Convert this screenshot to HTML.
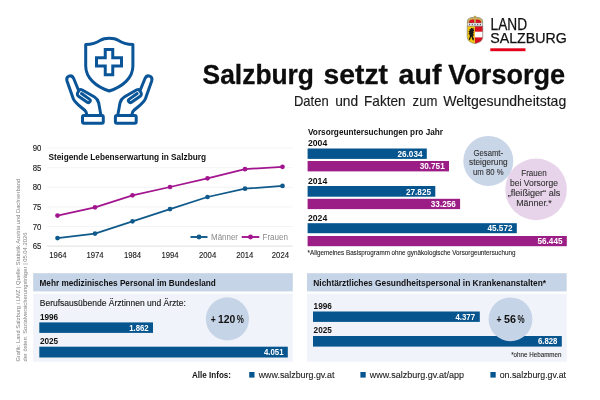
<!DOCTYPE html>
<html lang="de">
<head>
<meta charset="utf-8">
<title>Salzburg setzt auf Vorsorge</title>
<style>
html,body{margin:0;padding:0;background:#fff;}
body{width:600px;height:400px;overflow:hidden;position:relative;font-family:"Liberation Sans",sans-serif;}
svg{position:absolute;left:0;top:0;display:block;}
text{font-family:"Liberation Sans",sans-serif;}
.b{font-weight:bold;}
.ax{font-size:8.6px;fill:#1a1a1a;stroke:#1a1a1a;stroke-width:0.12px;}
.yr{font-size:8.4px;font-weight:bold;fill:#111;}
.val{font-size:8.7px;font-weight:bold;fill:#fff;}
.ct{font-size:9px;fill:#333;stroke:#333;stroke-width:0.12px;}
</style>
</head>
<body>
<svg width="600" height="400" viewBox="0 0 600 400">
<rect width="600" height="400" fill="#fff"/>

<!-- ICON -->
<g id="icon" fill="none" stroke="#0a5598" stroke-width="3" stroke-linejoin="round" stroke-linecap="round">
  <path d="M109.3 38.3 C105.5 38.3 103 38.6 100.5 40.2 C96.5 42.8 91 44.3 85.7 44.6 V66 C85.7 78 96 86.5 109.3 91 C122.6 86.5 132.9 78 132.9 66 V44.6 C127.6 44.3 122.1 42.8 118.1 40.2 C115.6 38.6 113.1 38.3 109.3 38.3 Z"/>
  <path d="M105.25 49.5 h7.5 v8.25 h8.75 v8.25 h-8.75 v8.75 h-7.5 v-8.75 h-8.75 v-8.25 h8.75 Z" stroke-linejoin="miter"/>
  <g id="lhand">
    <path d="M86.8 114.5 C86.6 112.5 86 111.3 84.5 110 C80.5 106.5 74.8 103 73.2 98.5 L67 81 C65.6 76 71.6 74 73.6 78.3 L78.6 90.5 C79.5 89.3 81 89.3 82.3 90 L94.5 97 C97 98.5 98 100.5 98.7 103 L100.8 114.5"/>
    <path d="M78.8 91 C77 93 76.8 95 78.5 96.2 L87.2 102.2 A1.9 1.9 0 0 0 89.4 99.1 L81.5 93.6"/>
    <rect x="82.5" y="115.5" width="20.8" height="7.7" rx="1.4"/>
  </g>
  <g transform="translate(218.7,0) scale(-1,1)">
    <path d="M86.8 114.5 C86.6 112.5 86 111.3 84.5 110 C80.5 106.5 74.8 103 73.2 98.5 L67 81 C65.6 76 71.6 74 73.6 78.3 L78.6 90.5 C79.5 89.3 81 89.3 82.3 90 L94.5 97 C97 98.5 98 100.5 98.7 103 L100.8 114.5"/>
    <path d="M78.8 91 C77 93 76.8 95 78.5 96.2 L87.2 102.2 A1.9 1.9 0 0 0 89.4 99.1 L81.5 93.6"/>
    <rect x="82.5" y="115.5" width="20.8" height="7.7" rx="1.4"/>
  </g>
</g>

<!-- TITLE -->
<text y="83.8" font-size="27.6" class="b" fill="#0d0d0d" stroke="#0d0d0d" stroke-width="0.3"><tspan x="202.6" textLength="111.4" lengthAdjust="spacingAndGlyphs">Salzburg</tspan> <tspan x="323.6" textLength="64.4" lengthAdjust="spacingAndGlyphs">setzt</tspan> <tspan x="398.6" textLength="42.8" lengthAdjust="spacingAndGlyphs">auf</tspan> <tspan x="448.3" textLength="116.8" lengthAdjust="spacingAndGlyphs">Vorsorge</tspan></text>
<text y="106.3" font-size="14.2" fill="#1a1a1a" stroke="#1a1a1a" stroke-width="0.15"><tspan x="294" textLength="34.6" lengthAdjust="spacingAndGlyphs">Daten</tspan> <tspan x="335.2" textLength="23" lengthAdjust="spacingAndGlyphs">und</tspan> <tspan x="364" textLength="41.6" lengthAdjust="spacingAndGlyphs">Fakten</tspan> <tspan x="412.6" textLength="24.8" lengthAdjust="spacingAndGlyphs">zum</tspan> <tspan x="443.2" textLength="123" lengthAdjust="spacingAndGlyphs">Weltgesundheitstag</tspan></text>
<!-- LOGO -->
<g id="logo">
  <g id="crest">
    <rect x="474.5" y="15.6" width="1" height="2.4" fill="#d9a520"/>
    <rect x="473.9" y="16.2" width="2.2" height="0.8" fill="#d9a520"/>
    <path d="M467.4 26 V21.2 C467.4 18.4 470.5 17.2 475 17.2 C479.5 17.2 482.6 18.4 482.6 21.2 V26 Z" fill="#c8b25a" stroke="#76766a" stroke-width="0.6"/>
    <path d="M469 23 V21.7 C469 20.1 471.4 19.5 474.2 19.5 V23 Z" fill="#d8101f"/>
    <path d="M481 23 V21.7 C481 20.1 478.6 19.5 475.8 19.5 V23 Z" fill="#d8101f"/>
    <rect x="467.4" y="23" width="15.2" height="3" fill="#f3f3f5" stroke="#80807a" stroke-width="0.4"/>
    <circle cx="469.6" cy="24.5" r="0.65" fill="#4a4f66"/><circle cx="472.3" cy="24.5" r="0.65" fill="#4a4f66"/><circle cx="475" cy="24.5" r="0.65" fill="#4a4f66"/><circle cx="477.7" cy="24.5" r="0.65" fill="#4a4f66"/><circle cx="480.4" cy="24.5" r="0.65" fill="#4a4f66"/>
    <path d="M467.2 26.2 H474.9 V43.6 C470 42.6 467.2 40.4 467.2 36.5 Z" fill="#f6c70a"/>
    <path d="M474.9 26.2 H482.8 V36.5 C482.8 40.4 480 42.6 474.9 43.6 Z" fill="#d8101f"/>
    <rect x="474.9" y="31.7" width="7.9" height="5.7" fill="#fff"/>
    <path d="M471.0 27.8 L472.6 28.4 L473.8 27.9 L473.6 29.6 L474.4 30.6 L473.2 31.2 L474.2 32.6 L473.0 33.0 L473.8 35.0 L472.8 36.4 L474.0 38.6 L473.4 40.8 L472.2 39.6 L472.0 37.6 L471.0 37.0 L470.4 39.0 L469.2 40.6 L468.8 39.0 L469.8 36.8 L469.6 34.6 L468.4 34.0 L469.4 32.6 L468.4 31.2 L469.8 30.6 L469.4 29.0 L470.6 29.2 Z" fill="#1a1a1a"/>
    <path d="M467.2 26.2 H482.8 V36.5 C482.8 40.4 480 42.6 475 43.6 C470 42.6 467.2 40.4 467.2 36.5 Z" fill="none" stroke="#77776c" stroke-width="0.6"/>
  </g>
  <text x="490.6" y="30" font-size="16" fill="#111" stroke="#111" stroke-width="0.25" textLength="36.5" lengthAdjust="spacingAndGlyphs">LAND</text>
  <text x="490.2" y="43.3" font-size="15.2" fill="#111" stroke="#111" stroke-width="0.25" textLength="76.6" lengthAdjust="spacingAndGlyphs">SALZBURG</text>
  <rect x="490.3" y="48.3" width="35.2" height="2.9" fill="#e2001a"/>
</g>
<!-- LINE CHART -->
<g id="linechart">
<line x1="47" y1="148.1" x2="292.8" y2="148.1" stroke="#f0f0f0" stroke-width="0.8"/>
<text x="32.7" y="151.15" class="ax" textLength="8.7" lengthAdjust="spacingAndGlyphs">90</text>
<line x1="47" y1="167.7" x2="292.8" y2="167.7" stroke="#f0f0f0" stroke-width="0.8"/>
<text x="32.7" y="170.75" class="ax" textLength="8.7" lengthAdjust="spacingAndGlyphs">85</text>
<line x1="47" y1="187.3" x2="292.8" y2="187.3" stroke="#f0f0f0" stroke-width="0.8"/>
<text x="32.7" y="190.35" class="ax" textLength="8.7" lengthAdjust="spacingAndGlyphs">80</text>
<line x1="47" y1="206.9" x2="292.8" y2="206.9" stroke="#f0f0f0" stroke-width="0.8"/>
<text x="32.7" y="209.95" class="ax" textLength="8.7" lengthAdjust="spacingAndGlyphs">75</text>
<line x1="47" y1="226.5" x2="292.8" y2="226.5" stroke="#f0f0f0" stroke-width="0.8"/>
<text x="32.7" y="229.55" class="ax" textLength="8.7" lengthAdjust="spacingAndGlyphs">70</text>
<line x1="47" y1="246.1" x2="292.8" y2="246.1" stroke="#dadada" stroke-width="0.8"/>
<text x="32.7" y="249.15" class="ax" textLength="8.7" lengthAdjust="spacingAndGlyphs">65</text>
<text x="49.3" y="257.6" class="ax" textLength="17.2" lengthAdjust="spacingAndGlyphs">1964</text>
<text x="86.4" y="257.6" class="ax" textLength="17.2" lengthAdjust="spacingAndGlyphs">1974</text>
<text x="123.9" y="257.6" class="ax" textLength="17.2" lengthAdjust="spacingAndGlyphs">1984</text>
<text x="161.4" y="257.6" class="ax" textLength="17.2" lengthAdjust="spacingAndGlyphs">1994</text>
<text x="199.0" y="257.6" class="ax" textLength="17.2" lengthAdjust="spacingAndGlyphs">2004</text>
<text x="236.2" y="257.6" class="ax" textLength="17.2" lengthAdjust="spacingAndGlyphs">2014</text>
<text x="271.8" y="257.6" class="ax" textLength="17.2" lengthAdjust="spacingAndGlyphs">2024</text>
<polyline points="57.5,238.1 95,233.6 132.5,221.3 170,209.1 207.5,197 245,188.7 282.5,185.9" fill="none" stroke="#0f5a8b" stroke-width="1.75" stroke-linejoin="round"/>
<circle cx="57.5" cy="238.1" r="2.35" fill="#0f5a8b"/>
<circle cx="95" cy="233.6" r="2.35" fill="#0f5a8b"/>
<circle cx="132.5" cy="221.3" r="2.35" fill="#0f5a8b"/>
<circle cx="170" cy="209.1" r="2.35" fill="#0f5a8b"/>
<circle cx="207.5" cy="197" r="2.35" fill="#0f5a8b"/>
<circle cx="245" cy="188.7" r="2.35" fill="#0f5a8b"/>
<circle cx="282.5" cy="185.9" r="2.35" fill="#0f5a8b"/>
<polyline points="57.5,215.6 95,207.3 132.5,195.3 170,187 207.5,178.3 245,169.2 282.5,166.8" fill="none" stroke="#a3158f" stroke-width="1.75" stroke-linejoin="round"/>
<circle cx="57.5" cy="215.6" r="2.35" fill="#a3158f"/>
<circle cx="95" cy="207.3" r="2.35" fill="#a3158f"/>
<circle cx="132.5" cy="195.3" r="2.35" fill="#a3158f"/>
<circle cx="170" cy="187" r="2.35" fill="#a3158f"/>
<circle cx="207.5" cy="178.3" r="2.35" fill="#a3158f"/>
<circle cx="245" cy="169.2" r="2.35" fill="#a3158f"/>
<circle cx="282.5" cy="166.8" r="2.35" fill="#a3158f"/>
<text x="48.5" y="160" class="b" font-size="8.8" fill="#111" textLength="157.5" lengthAdjust="spacingAndGlyphs">Steigende Lebenserwartung in Salzburg</text>
<line x1="190.5" y1="237" x2="207.5" y2="237" stroke="#0f5a8b" stroke-width="1.9"/><circle cx="199" cy="237" r="2.4" fill="#0f5a8b"/>
<text x="211" y="240" font-size="8.6" fill="#8a8a8a" textLength="27" lengthAdjust="spacingAndGlyphs">Männer</text>
<line x1="241.7" y1="237" x2="259.3" y2="237" stroke="#a3158f" stroke-width="1.9"/><circle cx="250.5" cy="237" r="2.4" fill="#a3158f"/>
<text x="262.5" y="240" font-size="8.6" fill="#8a8a8a" textLength="25.5" lengthAdjust="spacingAndGlyphs">Frauen</text>
</g>
<!-- BAR CHART RIGHT -->
<g id="bars">
<text x="308" y="134.8" class="b" font-size="8.7" fill="#111" textLength="135" lengthAdjust="spacingAndGlyphs">Vorsorgeuntersuchungen pro Jahr</text>
<text x="308" y="146.2" class="yr" textLength="19.2" lengthAdjust="spacingAndGlyphs">2004</text>
<rect x="307.6" y="148.5" width="119.2" height="10.4" fill="#06558e"/>
<text x="397.5" y="156.85" class="val" textLength="25" lengthAdjust="spacingAndGlyphs">26.034</text>
<rect x="307.6" y="161" width="141.4" height="10.4" fill="#9b1e86"/>
<text x="419.7" y="169.35" class="val" textLength="25" lengthAdjust="spacingAndGlyphs">30.751</text>
<text x="308" y="183.6" class="yr" textLength="19.2" lengthAdjust="spacingAndGlyphs">2014</text>
<rect x="307.6" y="186" width="127.7" height="10.7" fill="#06558e"/>
<text x="406.0" y="194.5" class="val" textLength="25" lengthAdjust="spacingAndGlyphs">27.825</text>
<rect x="307.6" y="198.8" width="152.5" height="10.3" fill="#9b1e86"/>
<text x="430.8" y="207.1" class="val" textLength="25" lengthAdjust="spacingAndGlyphs">33.256</text>
<text x="308" y="220.7" class="yr" textLength="19.2" lengthAdjust="spacingAndGlyphs">2024</text>
<rect x="307.6" y="223.2" width="209.2" height="10.0" fill="#06558e"/>
<text x="487.5" y="231.35" class="val" textLength="25" lengthAdjust="spacingAndGlyphs">45.572</text>
<rect x="307.6" y="236" width="259.2" height="10.2" fill="#9b1e86"/>
<text x="537.5" y="244.25" class="val" textLength="25" lengthAdjust="spacingAndGlyphs">56.445</text>
<text x="307.6" y="255.4" font-size="6.4" fill="#222" textLength="207.8" lengthAdjust="spacingAndGlyphs" stroke="#222" stroke-width="0.08">*Allgemeines Basisprogramm ohne gynäkologische Vorsorgeuntersuchung</text>
<circle cx="488.3" cy="160.9" r="25" fill="#c9d6e8"/>
<circle cx="536.1" cy="189.4" r="30.8" fill="#dec2e1" fill-opacity="0.7"/>
<text x="473.55" y="155.6" class="ct" textLength="29.5" lengthAdjust="spacingAndGlyphs">Gesamt-</text>
<text x="469.05" y="165.1" class="ct" textLength="38.5" lengthAdjust="spacingAndGlyphs">steigerung</text>
<text x="473.05" y="174.8" class="ct" textLength="30.5" lengthAdjust="spacingAndGlyphs">um 80 %</text>
<text x="521.25" y="176.3" class="ct" textLength="25.5" lengthAdjust="spacingAndGlyphs">Frauen</text>
<text x="510.1" y="185.6" class="ct" textLength="47.8" lengthAdjust="spacingAndGlyphs">bei Vorsorge</text>
<text x="507.75" y="196.2" class="ct" textLength="52.5" lengthAdjust="spacingAndGlyphs">„fleißiger“ als</text>
<text x="516.2" y="205.6" class="ct" textLength="35.6" lengthAdjust="spacingAndGlyphs">Männer.*</text>
</g>
<!-- BOX 1 -->
<g id="box1">
<rect x="33.2" y="273.2" width="259.6" height="18.2" fill="#c6d4e7"/>
<rect x="33.2" y="293.7" width="259.6" height="68" fill="#f0f3f9"/>
<text x="39.5" y="286" class="b" font-size="8.9" fill="#111" textLength="176.3" lengthAdjust="spacingAndGlyphs">Mehr medizinisches Personal im Bundesland</text>
<text x="39.8" y="306" font-size="9.2" fill="#1a1a1a" textLength="146" lengthAdjust="spacingAndGlyphs" stroke="#1a1a1a" stroke-width="0.15">Berufsausübende Ärztinnen und Ärzte:</text>
<text x="39.9" y="320.3" class="yr" textLength="18.3" lengthAdjust="spacingAndGlyphs">1996</text>
<rect x="39.3" y="322.4" width="113.7" height="10.5" fill="#06558e"/>
<text x="129.2" y="330.8" class="val" textLength="19.5" lengthAdjust="spacingAndGlyphs">1.862</text>
<text x="39.9" y="344.2" class="yr" textLength="18.3" lengthAdjust="spacingAndGlyphs">2025</text>
<rect x="39.3" y="346.7" width="248.5" height="10.8" fill="#06558e"/>
<text x="264.0" y="355.25" class="val" textLength="19.5" lengthAdjust="spacingAndGlyphs">4.051</text>
<circle cx="227.4" cy="318.9" r="21.6" fill="#c6d4e7"/>
<text y="322.7" font-size="10.9" class="b" fill="#111"><tspan x="210.8" textLength="5" lengthAdjust="spacingAndGlyphs">+</tspan> <tspan x="218" textLength="17.3" lengthAdjust="spacingAndGlyphs">120</tspan> <tspan x="236.7" textLength="7.1" lengthAdjust="spacingAndGlyphs">%</tspan></text>
</g>
<!-- BOX 2 -->
<g id="box2">
<rect x="307" y="273.2" width="259.7" height="18.2" fill="#c6d4e7"/>
<rect x="307" y="293.7" width="259.7" height="68" fill="#f0f3f9"/>
<text x="313.3" y="286" class="b" font-size="8.9" fill="#111" textLength="232.7" lengthAdjust="spacingAndGlyphs">Nichtärztliches Gesundheitspersonal in Krankenanstalten*</text>
<text x="313.6" y="308.6" class="yr" textLength="18.3" lengthAdjust="spacingAndGlyphs">1996</text>
<rect x="313" y="311.5" width="166.8" height="10.4" fill="#06558e"/>
<text x="455.5" y="319.85" class="val" textLength="19.5" lengthAdjust="spacingAndGlyphs">4.377</text>
<text x="313.6" y="333.2" class="yr" textLength="18.3" lengthAdjust="spacingAndGlyphs">2025</text>
<rect x="313" y="336" width="248.8" height="10.6" fill="#06558e"/>
<text x="537.9" y="344.45" class="val" textLength="19.5" lengthAdjust="spacingAndGlyphs">6.828</text>
<circle cx="510.5" cy="319.3" r="21.9" fill="#c6d4e7"/>
<text y="323.3" font-size="10.9" class="b" fill="#111"><tspan x="496.5" textLength="5" lengthAdjust="spacingAndGlyphs">+</tspan> <tspan x="504" textLength="12" lengthAdjust="spacingAndGlyphs">56</tspan> <tspan x="517.4" textLength="7.1" lengthAdjust="spacingAndGlyphs">%</tspan></text>
<text x="511.2" y="356.7" font-size="6.4" fill="#222" textLength="50.3" lengthAdjust="spacingAndGlyphs" stroke="#222" stroke-width="0.08">*ohne Hebammen</text>
</g>
<!-- FOOTER -->
<g id="footer">
<text x="192" y="377.6" class="b" font-size="9.4" fill="#111" textLength="39" lengthAdjust="spacingAndGlyphs">Alle Infos:</text>
<rect x="249.2" y="372" width="5.3" height="5.6" fill="#06558e"/>
<text x="258.7" y="377.5" font-size="9.6" fill="#1a1a1a" textLength="75.8" lengthAdjust="spacingAndGlyphs" stroke="#1a1a1a" stroke-width="0.1">www.salzburg.gv.at</text>
<rect x="360.4" y="372" width="5.3" height="5.6" fill="#06558e"/>
<text x="369.7" y="377.5" font-size="9.6" fill="#1a1a1a" textLength="94.3" lengthAdjust="spacingAndGlyphs" stroke="#1a1a1a" stroke-width="0.1">www.salzburg.gv.at/app</text>
<rect x="490.4" y="372" width="5.3" height="5.6" fill="#06558e"/>
<text x="499.7" y="377.5" font-size="9.6" fill="#1a1a1a" textLength="66.3" lengthAdjust="spacingAndGlyphs" stroke="#1a1a1a" stroke-width="0.1">on.salzburg.gv.at</text>
</g>
<!-- CREDIT -->
<g id="credit">
<text transform="translate(19.6,361.6) rotate(-90)" font-size="5.5" fill="#808080" textLength="182.8" lengthAdjust="spacingAndGlyphs">Grafik: Land Salzburg / LMZ | Quelle: Statistik Austria und Dachverband</text>
<text transform="translate(27.3,361.6) rotate(-90)" font-size="5.5" fill="#808080" textLength="129" lengthAdjust="spacingAndGlyphs">der österr. Sozialversicherungsträger | 05.04.2026</text>
</g>
</svg>
</body>
</html>
